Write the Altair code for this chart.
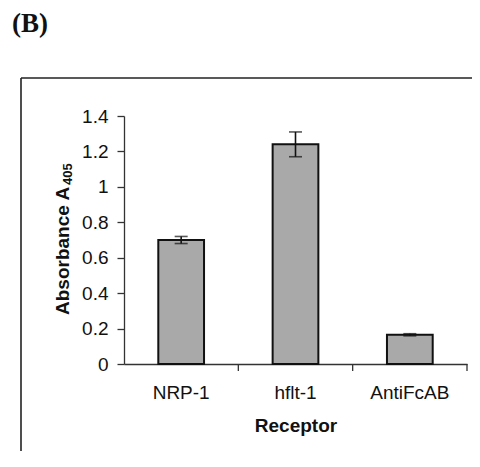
import altair as alt
import pandas as pd

receptors = ["NRP-1", "hflt-1", "AntiFcAB"]
absorbance = [0.70, 1.24, 0.165]
errors = [0.02, 0.07, 0.006]
y_ticks = [0, 0.2, 0.4, 0.6, 0.8, 1.0, 1.2, 1.4]
panel_label = ["(B)"]
y_title_main = ["Absorbance A"]
y_title_sub = ["405"]

df = pd.DataFrame({"Receptor": receptors, "A": absorbance, "err": errors})
df["lo"] = df["A"] - df["err"]
df["hi"] = df["A"] + df["err"]

FONT = "Liberation Sans"
INK = "#111111"
W, H = 343, 248

xs = alt.Scale(domain=receptors, paddingInner=0, paddingOuter=0)
ys = alt.Scale(domain=[0, 1.4], nice=False, zero=True)

x_axis = alt.Axis(
    title="Receptor", labelAngle=0, ticks=False, tickSize=0, labelPadding=19,
    titlePadding=14, domainColor="#333333", domainWidth=1.3,
    labelFont=FONT, labelFontSize=19, labelColor=INK,
    titleFont=FONT, titleFontSize=19, titleFontWeight="bold", titleColor=INK,
)
y_axis = alt.Axis(
    title=None, values=y_ticks, format="~g", grid=False, labelOverlap=False,
    tickSize=7, tickColor="#333333", tickWidth=1.3, labelPadding=9,
    domainColor="#333333", domainWidth=1.3,
    labelFont=FONT, labelFontSize=19, labelColor=INK,
)

X = alt.X("Receptor:N", scale=xs, sort=receptors, axis=x_axis)

base = alt.Chart(df)

bars = base.mark_bar(
    width=alt.RelativeBandSize(0.4), color="#a9a9a9", stroke=INK, strokeWidth=2
).encode(
    x=X,
    y=alt.Y("A:Q", scale=ys, axis=y_axis),
)

err_rule = base.mark_rule(color=INK, strokeWidth=1.6).encode(
    x=X,
    y=alt.Y("lo:Q", scale=ys, axis=y_axis),
    y2="hi:Q",
)
cap_hi = base.mark_tick(size=13, thickness=1.6, color=INK).encode(
    x=X, y=alt.Y("hi:Q", scale=ys, axis=y_axis)
)
cap_lo = base.mark_tick(size=13, thickness=1.6, color=INK).encode(
    x=X, y=alt.Y("lo:Q", scale=ys, axis=y_axis)
)

x_ticks = base.mark_rule(color="#333333", strokeWidth=1.3).encode(
    x=alt.X("Receptor:N", scale=xs, sort=receptors, axis=x_axis, bandPosition=1),
    y=alt.value(H),
    y2=alt.value(H + 7),
)

one = pd.DataFrame({"f": [0]})
frame_top = alt.Chart(one).mark_rule(color="#222222", strokeWidth=1.6).encode(
    x=alt.value(-103), x2=alt.value(400), y=alt.value(-38)
)
frame_left = alt.Chart(one).mark_rule(color="#222222", strokeWidth=1.6).encode(
    x=alt.value(-103), y=alt.value(-38), y2=alt.value(500)
)

label = alt.Chart(pd.DataFrame({"t": panel_label})).mark_text(
    font="Liberation Serif", fontSize=27, fontWeight="bold", align="left",
    baseline="alphabetic", color=INK
).encode(text="t:N", x=alt.value(-112), y=alt.value(-84))

ytitle = alt.Chart(pd.DataFrame({"t": y_title_main})).mark_text(
    font=FONT, fontSize=19, fontWeight="bold", align="left",
    baseline="alphabetic", angle=270, color=INK
).encode(text="t:N", x=alt.value(-55), y=alt.value(199))

ytitle_sub = alt.Chart(pd.DataFrame({"t": y_title_sub})).mark_text(
    font=FONT, fontSize=13, fontWeight="bold", align="left",
    baseline="alphabetic", angle=270, color=INK
).encode(text="t:N", x=alt.value(-52), y=alt.value(69))

chart = alt.layer(
    frame_top, frame_left, bars, err_rule, cap_hi, cap_lo, x_ticks,
    label, ytitle, ytitle_sub
).properties(
    width=W, height=H,
    autosize=alt.AutoSizeParams(type="none"),
    padding={"left": 116, "top": 108, "right": 5, "bottom": 87},
).configure_view(strokeWidth=0)

chart.save("out.html", embed_options={"renderer": "svg", "actions": False})
